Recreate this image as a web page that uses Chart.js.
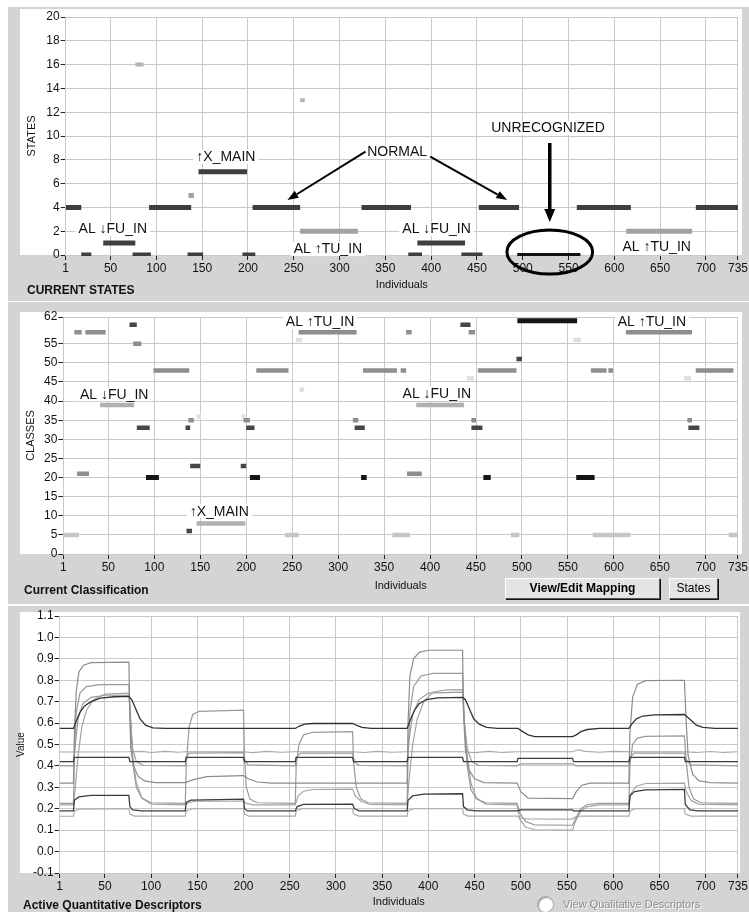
<!DOCTYPE html>
<html><head><meta charset="utf-8">
<script src="https://cdn.jsdelivr.net/npm/chart.js@4.4.1/dist/chart.umd.min.js"></script>
<style>
html,body{margin:0;padding:0;background:#fff;}
body{position:relative;width:749px;height:912px;overflow:hidden;font-family:"Liberation Sans",Arial,sans-serif;}
.bg{position:absolute;}
canvas{position:absolute;left:0;}
.t{position:absolute;white-space:nowrap;color:#111;line-height:1;}
.b{font-weight:bold;font-size:12px;}
.btn{position:absolute;box-sizing:border-box;background:#e4e4e4;border:1px solid;border-color:#fff #555 #555 #fff;box-shadow:1px 1px 0 #111;font-size:12px;text-align:center;line-height:18px;color:#000;}
</style></head><body>
<div class="bg" style="left:8px;top:7px;width:741px;height:294px;background:#d4d4d4"></div>
<div class="bg" style="left:20px;top:9px;width:722px;height:246px;background:#fff"></div>
<div class="bg" style="left:8px;top:302px;width:741px;height:302px;background:#d4d4d4"></div>
<div class="bg" style="left:20px;top:312px;width:722px;height:242px;background:#fff"></div>
<div class="bg" style="left:8px;top:606px;width:741px;height:306px;background:#d4d4d4"></div>
<div class="bg" style="left:20px;top:612px;width:720px;height:261px;background:#fff"></div>

<canvas id="c1" width="749" height="300" style="top:0;width:749px;height:300px"></canvas>
<canvas id="c2" width="749" height="300" style="top:300px;width:749px;height:300px"></canvas>
<canvas id="c3" width="749" height="312" style="top:600px;width:749px;height:312px"></canvas>

<div class="t b" style="left:27px;top:284px">CURRENT STATES</div>
<div class="t b" style="left:24px;top:584px">Current Classification</div>
<div class="t b" style="left:23px;top:899px">Active Quantitative Descriptors</div>
<div class="btn" style="left:505px;top:578px;width:155px;height:21px;font-weight:bold">View/Edit Mapping</div>
<div class="btn" style="left:669px;top:578px;width:49px;height:21px">States</div>
<div class="bg" style="left:537px;top:896px;width:15px;height:15px;border-radius:50%;background:#fff;border:1px solid #a0a0a0;box-shadow:inset 1px 1px 1px #999"></div>
<div class="t" style="left:563px;top:899px;font-size:11px;color:#8c8c8c;text-shadow:1px 1px 0 #fff">View Qualitative Descriptors</div>

<script>
// ---------- axis ticks ----------
const xTicks = [1,50,100,150,200,250,300,350,400,450,500,550,600,650,700,735];
const stateTicks = [0,2,4,6,8,10,12,14,16,18,20];
const classTicks = [0,5,10,15,20,25,30,35,40,45,50,55,62];
const valueTicks = [-0.1,0.0,0.1,0.2,0.3,0.4,0.5,0.6,0.7,0.8,0.9,1.0,1.1];

// ---------- CURRENT STATES : [start, end, state] ----------
const statesDark = [[1,18,4],[18,29,0],[42,77,1],[74,94,0],[92,138,4],[134,151,0],[146,199,7],[194,208,0],[205,257,4],
  [324,378,4],[375,390,0],[385,437,1],[433,456,0],[452,496,4],[559,618,4],[689,735,4]];
const statesGrey = [[257,320,2],[613,685,2],[135,141,5]];
const statesLight = [[77,86,16],[257,262,13]];
const statesUnrecognized = [[494,563,0]];

// ---------- CURRENT CLASSIFICATION : [start, end, class] ----------
const classBlack = [[91,105,20],[204,215,20],[325,331,20],[458,466,20],[559,579,20],[495,560,61]];
const classDark = [[73,81,60],[81,95,33],[134,139,33],[200,209,33],[318,329,33],[445,457,33],[681,693,33],
  [139,150,23],[194,200,23],[135,141,6],[433,444,60],[494,500,51]];
const classMid = [[13,21,58],[25,47,58],[77,86,55],[99,138,48],[137,143,35],[197,204,35],[211,246,48],[257,320,58],
  [316,322,35],[327,364,48],[368,374,48],[374,380,58],[442,449,58],[445,450,35],[452,494,48],[575,592,48],[594,599,48],
  [613,685,58],[680,685,35],[689,730,48],[16,29,21],[375,391,21]];
const classLight = [[41,78,39],[385,437,39],[146,199,8]];
const classLighter = [[1,18,5],[242,257,5],[359,378,5],[488,497,5],[577,618,5],[725,735,5]];
const classFaint = [[146,151,36],[195,199,36],[254,261,56],[258,263,43],[440,448,46],[556,564,56],[676,684,46]];

// ---------- ACTIVE QUANTITATIVE DESCRIPTORS : [individual, value] ----------
const descA = [[1,.575],[16,.575],[19,.61],[23,.65],[28,.68],[35,.70],[45,.717],[60,.723],[76,.725],[79,.71],[83,.67],[88,.62],[94,.59],[102,.578],[115,.575],[256,.575],[260,.585],[266,.595],[275,.598],[318,.598],[322,.59],[328,.58],[338,.575],[377,.575],[380,.61],[385,.66],[390,.69],[398,.71],[410,.718],[437,.72],[440,.71],[444,.67],[449,.62],[455,.595],[463,.58],[475,.575],[497,.575],[502,.56],[508,.545],[515,.537],[556,.537],[560,.545],[565,.56],[572,.57],[585,.575],[617,.575],[620,.595],[625,.62],[632,.633],[645,.638],[677,.64],[680,.63],[685,.61],[690,.59],[697,.58],[710,.575],[735,.575]];
const descB = [[1,.32],[16,.32],[17,.55],[19,.75],[22,.84],[27,.87],[35,.882],[76,.885],[77,.62],[78,.48],[81,.40],[86,.35],[93,.33],[105,.322],[137,.322],[145,.335],[160,.35],[200,.355],[205,.34],[215,.325],[230,.32],[377,.32],[378,.6],[380,.82],[384,.9],[390,.93],[400,.94],[437,.94],[438,.65],[440,.48],[444,.38],[450,.34],[460,.322],[496,.32],[500,.28],[508,.25],[556,.247],[560,.28],[566,.31],[575,.32],[617,.32],[618,.55],[621,.72],[626,.78],[635,.798],[677,.80],[679,.6],[681,.45],[686,.36],[693,.33],[705,.322],[735,.32]];
const descC = [[1,.225],[16,.225],[17,.45],[19,.65],[23,.74],[30,.77],[45,.78],[76,.78],[78,.6],[80,.42],[84,.3],[90,.25],[100,.228],[137,.225],[138,.4],[141,.58],[145,.64],[152,.655],[200,.66],[201,.45],[203,.3],[207,.245],[215,.228],[256,.225],[257,.4],[260,.5],[265,.545],[275,.557],[318,.56],[319,.42],[322,.3],[327,.245],[335,.228],[377,.225],[378,.45],[380,.65],[384,.77],[392,.82],[405,.832],[437,.832],[439,.6],[442,.4],[446,.29],[452,.245],[462,.228],[496,.225],[499,.18],[505,.14],[515,.125],[556,.123],[560,.16],[565,.2],[572,.22],[585,.225],[617,.225],[618,.4],[621,.5],[626,.53],[635,.538],[677,.54],[679,.42],[682,.3],[687,.245],[695,.228],[735,.225]];
const descD = [[1,.218],[16,.218],[18,.3],[21,.45],[25,.58],[30,.66],[38,.71],[50,.735],[76,.74],[78,.6],[80,.45],[84,.32],[90,.25],[100,.222],[137,.218],[140,.228],[148,.235],[200,.236],[203,.225],[210,.218],[256,.218],[259,.26],[265,.282],[275,.29],[318,.292],[321,.26],[327,.235],[337,.22],[377,.218],[379,.33],[383,.5],[388,.62],[395,.7],[405,.745],[420,.755],[437,.756],[439,.6],[442,.45],[446,.32],[452,.25],[462,.222],[496,.218],[499,.15],[505,.115],[515,.102],[556,.1],[559,.14],[565,.19],[572,.21],[585,.218],[617,.218],[619,.27],[625,.305],[635,.318],[677,.32],[679,.28],[684,.24],[692,.222],[735,.218]];
const descE = [[1,.465],[16,.465],[76,.466],[90,.468],[100,.463],[115,.468],[130,.464],[137,.466],[200,.466],[210,.462],[225,.468],[240,.464],[256,.466],[318,.466],[330,.463],[345,.468],[360,.464],[377,.466],[437,.466],[450,.462],[465,.468],[480,.463],[496,.466],[556,.466],[562,.475],[570,.468],[585,.464],[600,.468],[617,.466],[677,.466],[690,.463],[705,.467],[720,.463],[735,.466]];
const descF = [[1,.42],[16,.42],[17,.44],[76,.44],[77,.42],[137,.42],[138,.44],[200,.44],[201,.42],[256,.42],[257,.44],[318,.44],[319,.42],[377,.42],[378,.44],[437,.44],[438,.42],[496,.42],[497,.435],[556,.435],[557,.42],[617,.42],[618,.44],[677,.44],[678,.42],[735,.42]];
const descG = [[1,.40],[16,.40],[18,.5],[21,.62],[26,.69],[35,.72],[50,.73],[76,.73],[78,.6],[80,.48],[84,.42],[92,.402],[137,.40],[138,.44],[141,.46],[200,.462],[201,.43],[205,.405],[256,.40],[257,.44],[262,.46],[318,.46],[320,.42],[325,.402],[377,.40],[379,.52],[383,.64],[390,.71],[400,.74],[437,.745],[439,.6],[442,.48],[447,.42],[455,.402],[496,.40],[500,.41],[556,.41],[560,.40],[617,.40],[618,.44],[623,.46],[677,.46],[679,.43],[684,.405],[735,.40]];
const descH = [[1,.19],[16,.19],[17,.24],[22,.255],[35,.262],[76,.262],[77,.21],[80,.195],[90,.19],[137,.19],[138,.23],[143,.24],[200,.245],[201,.2],[204,.19],[256,.19],[258,.21],[265,.22],[318,.222],[320,.2],[325,.19],[377,.19],[378,.24],[383,.26],[395,.268],[437,.27],[438,.21],[442,.195],[452,.19],[496,.19],[500,.195],[556,.195],[557,.19],[617,.19],[618,.26],[623,.28],[635,.288],[677,.29],[678,.22],[683,.195],[692,.19],[735,.19]];
const descI = [[1,.165],[16,.165],[17,.19],[22,.198],[76,.2],[77,.175],[82,.166],[137,.166],[138,.19],[145,.2],[200,.2],[201,.175],[206,.166],[256,.166],[257,.19],[263,.2],[318,.2],[319,.175],[325,.166],[377,.166],[378,.19],[384,.2],[437,.2],[438,.175],[443,.166],[496,.166],[499,.158],[505,.153],[556,.152],[558,.16],[565,.166],[617,.166],[618,.19],[624,.2],[677,.2],[678,.175],[684,.166],[735,.166]];

// ---------- annotations (text, individual, value) ----------
const stateNotes = [['AL \u2193FU_IN',52.4,2.18],['\u2191X_MAIN',175.9,8.24],['AL \u2191TU_IN',287.3,0.5],['NORMAL',362.9,8.66],
  ['AL \u2193FU_IN',405.9,2.18],['AL \u2191TU_IN',646.2,0.67],['UNRECOGNIZED',527.6,10.67]];
const stateArrows = [[328.3,8.68,243.1,4.62],[399,8.26,483.1,4.62],[529.5,9.41,529.5,2.77]];
const stateEllipse = [529.5,0.25,46.8,1.85];
const classNotes = [['AL \u2191TU_IN',280.3,60.7],['AL \u2193FU_IN',56.4,41.8],['AL \u2191TU_IN',641.3,60.8],['AL \u2193FU_IN',407.3,41.9],['\u2191X_MAIN',170.7,11.2]];

// ---------- helpers ----------
const tickFont = {family:'"Liberation Sans Narrow","Liberation Sans",Arial,sans-serif', size:12};
const titleFont = {family:'"Liberation Sans",Arial,sans-serif', size:11};
const gridColor = '#c9c9c9';

function segData(list){const p=[];list.forEach(s=>{p.push({x:s[0],y:s[2]},{x:s[1],y:s[2]},{x:s[1],y:null});});return p;}
function barSet(list,color,w){return {data:segData(list),borderColor:color,borderWidth:w,pointRadius:0,borderCapStyle:'butt',spanGaps:false,clip:{left:0,top:4,right:0,bottom:1}};}
function lineSet(list,color,w){return {data:list.map(p=>({x:p[0],y:p[1]})),borderColor:color,borderWidth:w,pointRadius:0,tension:0,clip:0};}

function xAxis(h,padBottom){
  return {type:'linear',min:1,max:735,
    afterBuildTicks:s=>{s.ticks=xTicks.map(v=>({value:v}));},
    afterFit:s=>{s.height=h;},
    ticks:{autoSkip:false,maxRotation:0,minRotation:0,font:tickFont,color:'#111',padding:1,callback:v=>String(v)},
    grid:{color:gridColor,tickColor:'#222',tickLength:5},
    border:{color:gridColor},
    title:{display:true,text:'Individuals',font:titleFont,color:'#111',padding:{top:0,bottom:padBottom}}};
}
function yAxis(w,min,max,arr,fmt,title,titlePad,tFont){
  return {type:'linear',min:min,max:max,
    afterBuildTicks:s=>{s.ticks=arr.map(v=>({value:v}));},
    afterFit:s=>{s.width=w;},
    ticks:{autoSkip:false,font:tickFont,color:'#111',padding:1,callback:fmt},
    grid:{color:gridColor,tickColor:'#222',tickLength:5},
    border:{color:gridColor},
    title:{display:true,text:title,font:tFont||titleFont,color:'#111',padding:{top:titlePad,bottom:0}}};
}

function drawArrow(ctx,x1,y1,x2,y2,lw,hl,hw){
  const a=Math.atan2(y2-y1,x2-x1);
  const bx=x2-hl*Math.cos(a), by=y2-hl*Math.sin(a);
  ctx.lineWidth=lw; ctx.strokeStyle='#000'; ctx.lineCap='butt';
  ctx.beginPath(); ctx.moveTo(x1,y1); ctx.lineTo(bx,by); ctx.stroke();
  ctx.beginPath(); ctx.moveTo(x2,y2);
  ctx.lineTo(bx+hw/2*Math.sin(a), by-hw/2*Math.cos(a));
  ctx.lineTo(bx-hw/2*Math.sin(a), by+hw/2*Math.cos(a));
  ctx.closePath(); ctx.fillStyle='#000'; ctx.fill();
}

const annotPlugin = {
  id:'annot',
  afterDatasetsDraw(chart,args,o){
    if(!o || !o.labels) return;
    const ctx=chart.ctx, xs=chart.scales.x, ys=chart.scales.y;
    ctx.save();
    ctx.font='14px "Liberation Sans", Arial, sans-serif';
    ctx.textAlign='center'; ctx.textBaseline='middle';
    o.labels.forEach(l=>{
      const px=xs.getPixelForValue(l[1]), py=ys.getPixelForValue(l[2]);
      const w=ctx.measureText(l[0]).width;
      ctx.fillStyle='#fff'; ctx.fillRect(px-w/2-3,py-7,w+6,14);
      ctx.fillStyle='#111'; ctx.fillText(l[0],px,py+0.5);
    });
    (o.arrows||[]).forEach((a,i)=>{
      const st=o.arrowStyles[i];
      drawArrow(ctx,xs.getPixelForValue(a[0]),ys.getPixelForValue(a[1]),xs.getPixelForValue(a[2]),ys.getPixelForValue(a[3]),st[0],st[1],st[2]);
    });
    if(o.ellipse){
      const e=o.ellipse;
      const cx=xs.getPixelForValue(e[0]), cy=ys.getPixelForValue(e[1]);
      const rx=Math.abs(xs.getPixelForValue(e[0]+e[2])-cx), ry=Math.abs(ys.getPixelForValue(e[1]+e[3])-cy);
      ctx.lineWidth=3; ctx.strokeStyle='#000';
      ctx.beginPath(); ctx.ellipse(cx,cy,rx,ry,0,0,Math.PI*2); ctx.stroke();
    }
    ctx.restore();
  }
};

const base = {responsive:false, animation:false, events:[]};

// ---------- chart 1 : states ----------
new Chart(document.getElementById('c1'),{
  type:'line',
  data:{datasets:[
    barSet(statesUnrecognized,'#111',4),
    barSet(statesDark,'#3e3e3e',5),
    barSet(statesGrey,'#a2a2a2',5),
    barSet(statesLight,'#b4b4b4',4)
  ]},
  plugins:[annotPlugin],
  options:Object.assign({},base,{
    layout:{padding:{left:20,right:8.3,top:17,bottom:0}},
    scales:{x:xAxis(45,8.4), y:yAxis(45.7,0,20,stateTicks,v=>String(v),'STATES',5.5)},
    plugins:{legend:{display:false},tooltip:{enabled:false},
      annot:{labels:stateNotes,arrows:stateArrows,arrowStyles:[[2,11,8],[2,11,8],[3.5,13,11]],ellipse:stateEllipse}}
  })
});

// ---------- chart 2 : classes ----------
new Chart(document.getElementById('c2'),{
  type:'line',
  data:{datasets:[
    barSet(classBlack,'#151515',5),
    barSet(classDark,'#464646',4.5),
    barSet(classMid,'#8e8e8e',4.5),
    barSet(classLight,'#b0b0b0',4.5),
    barSet(classLighter,'#c6c6c6',4.5),
    barSet(classFaint,'#e0e0e0',4.5)
  ]},
  plugins:[annotPlugin],
  options:Object.assign({},base,{
    layout:{padding:{left:20,right:9.7,top:17,bottom:0}},
    scales:{x:xAxis(46,7.4), y:yAxis(43.3,0,62,classTicks,v=>String(v),'CLASSES',4)},
    plugins:{legend:{display:false},tooltip:{enabled:false},annot:{labels:classNotes}}
  })
});

// ---------- chart 3 : descriptors ----------
new Chart(document.getElementById('c3'),{
  type:'line',
  data:{datasets:[
    lineSet(descA,'#333',1.3),
    lineSet(descF,'#3c3c3c',1.3),
    lineSet(descH,'#3c3c3c',1.3),
    lineSet(descB,'#8c8c8c',1.2),
    lineSet(descC,'#999',1.2),
    lineSet(descD,'#a4a4a4',1.2),
    lineSet(descE,'#a8a8a8',1.1),
    lineSet(descG,'#9a9a9a',1.2),
    lineSet(descI,'#aaa',1.2)
  ]},
  options:Object.assign({},base,{
    layout:{padding:{left:10,right:9.6,top:16,bottom:0}},
    scales:{x:xAxis(39,3.4), y:yAxis(49.6,-0.1,1.1,valueTicks,v=>Number(v).toFixed(1),'Value',5,{family:'"Liberation Sans",Arial,sans-serif',size:10})},
    plugins:{legend:{display:false},tooltip:{enabled:false}}
  })
});
</script>
</body></html>
